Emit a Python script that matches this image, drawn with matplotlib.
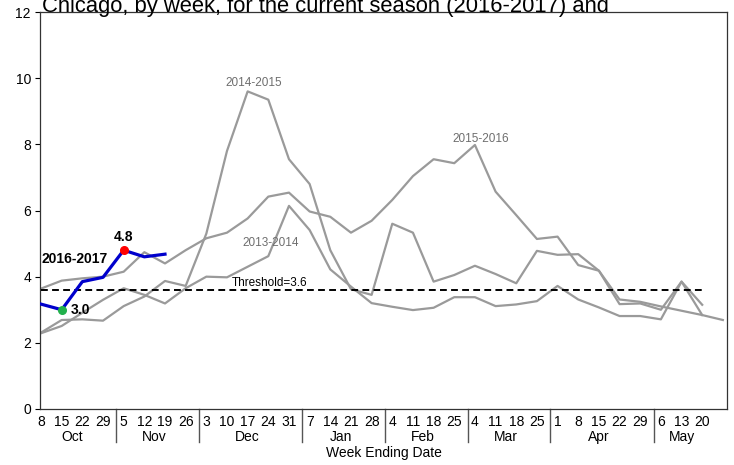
import matplotlib
matplotlib.use("Agg")
import matplotlib.pyplot as plt
import numpy as np

plt.rcParams['font.family'] = ['Liberation Sans', 'DejaVu Sans']

# ---- data ----
day_labels = [8, 15, 22, 29, 5, 12, 19, 26, 3, 10, 17, 24, 31, 7, 14, 21, 28,
              4, 11, 18, 25, 4, 11, 18, 25, 1, 8, 15, 22, 29, 6, 13, 20]
months = ["Oct", "Nov", "Dec", "Jan", "Feb", "Mar", "Apr", "May"]
month_weeks = [4, 4, 5, 4, 4, 4, 5, 3]

s2013_2014 = [2.29, 2.51, 2.91, 3.30, 3.65, 3.45, 3.19, 3.65, 4.00, 3.98, 4.30,
              4.62, 6.14, 5.41, 4.22, 3.70, 3.20, 3.09, 2.99, 3.06, 3.38, 3.38,
              3.11, 3.16, 3.26, 3.72, 3.31, 3.07, 2.81, 2.81, 2.71, 3.85, 3.15]
s2014_2015 = [2.31, 2.69, 2.71, 2.67, 3.11, 3.40, 3.87, 3.72, 5.30, 7.80, 9.60,
              9.35, 7.55, 6.80, 4.80, 3.62, 3.45, 5.60, 5.33, 3.85, 4.05, 4.33,
              4.08, 3.80, 4.78, 4.66, 4.68, 4.18, 3.17, 3.19, 3.00, 3.85, 2.84]
s2015_2016 = [3.64, 3.88, 3.95, 4.00, 4.15, 4.74, 4.40, 4.80, 5.16, 5.33, 5.76,
              6.42, 6.54, 5.97, 5.81, 5.33, 5.69, 6.32, 7.04, 7.55, 7.43, 7.98,
              6.57, 5.86, 5.14, 5.21, 4.35, 4.18, 3.31, 3.24, 3.10, 2.97, 2.84, 2.69]
s2016_2017 = [3.17, 3.00, 3.85, 3.98, 4.80, 4.60, 4.68]
threshold = 3.6
min_idx, max_idx = 1, 4

# ---- figure ----
fig = plt.figure(figsize=(7.34, 4.65), dpi=100)
ax = fig.add_axes([40/734, 1 - 409/465, 687/734, 397/465])

gray = '#9a9a9a'
for s in (s2013_2014, s2014_2015, s2015_2016):
    ax.plot(np.arange(len(s)), s, color=gray, lw=1.6, solid_joinstyle='round', zorder=2)

ax.plot(np.arange(len(day_labels)), [threshold] * len(day_labels),
        color='black', lw=1.4, ls=(0, (3.5, 2.2)), zorder=3)

x17 = np.arange(len(s2016_2017))
ax.plot(x17, s2016_2017, color='#0000cc', lw=2.3, zorder=4)
ax.plot(min_idx, s2016_2017[min_idx], 'o', color='#22b14c', ms=5.5, zorder=5)
ax.plot(max_idx, s2016_2017[max_idx], 'o', color='#ff0000', ms=5.5, zorder=5)

# annotations
ax.text(max_idx, s2016_2017[max_idx] + 0.4, f"{s2016_2017[max_idx]:.1f}",
        ha='center', va='center', fontsize=10, fontweight='bold')
ax.text(min_idx + 0.45, s2016_2017[min_idx], f"{s2016_2017[min_idx]:.1f}",
        ha='left', va='center', fontsize=10, fontweight='bold')
ax.text(0.0, 4.53, "2016-2017", ha='left', va='center', fontsize=10, fontweight='bold')
ax.text(10.3, 9.85, "2014-2015", ha='center', va='center', fontsize=8.5, color='#6e6e6e')
ax.text(21.3, 8.16, "2015-2016", ha='center', va='center', fontsize=8.5, color='#6e6e6e')
ax.text(11.1, 5.02, "2013-2014", ha='center', va='center', fontsize=8.5, color='#6e6e6e')
ax.text(11.06, 3.8, f"Threshold={threshold}", ha='center', va='center', fontsize=8.5, color='black')

ax.set_xlim(-0.05, 33.2)
ax.set_ylim(0, 12)
ax.set_yticks(np.arange(0, 13, 2))
ax.set_xticks(np.arange(len(day_labels)))
ax.set_xticklabels([str(d) for d in day_labels])
ax.tick_params(axis='x', length=0, pad=4, labelsize=10)
ax.tick_params(axis='y', length=3.5, width=0.8, labelsize=10, pad=3)
for sp in ax.spines.values():
    sp.set_linewidth(0.9)
    sp.set_color('#333333')

# month labels and separators
trans = ax.get_xaxis_transform()
start = 0
for m, n in zip(months, month_weeks):
    center = start + (n - 1) / 2
    ax.text(center, -0.071, m, transform=trans, ha='center', va='center', fontsize=10)
    start += n
    if start < len(day_labels):
        sx = start - 0.35
        ax.plot([sx, sx], [0, -0.083], transform=trans, color='#555555', lw=1.0, clip_on=False)

ax.text(0.5, -0.111, "Week Ending Date", transform=ax.transAxes, ha='center', va='center', fontsize=10)

fig.text(42/734, 1 - 12/465, "Chicago, by week, for the current season (2016-2017) and",
         ha='left', va='baseline', fontsize=15.8)

fig.savefig("out.png", dpi=100)
